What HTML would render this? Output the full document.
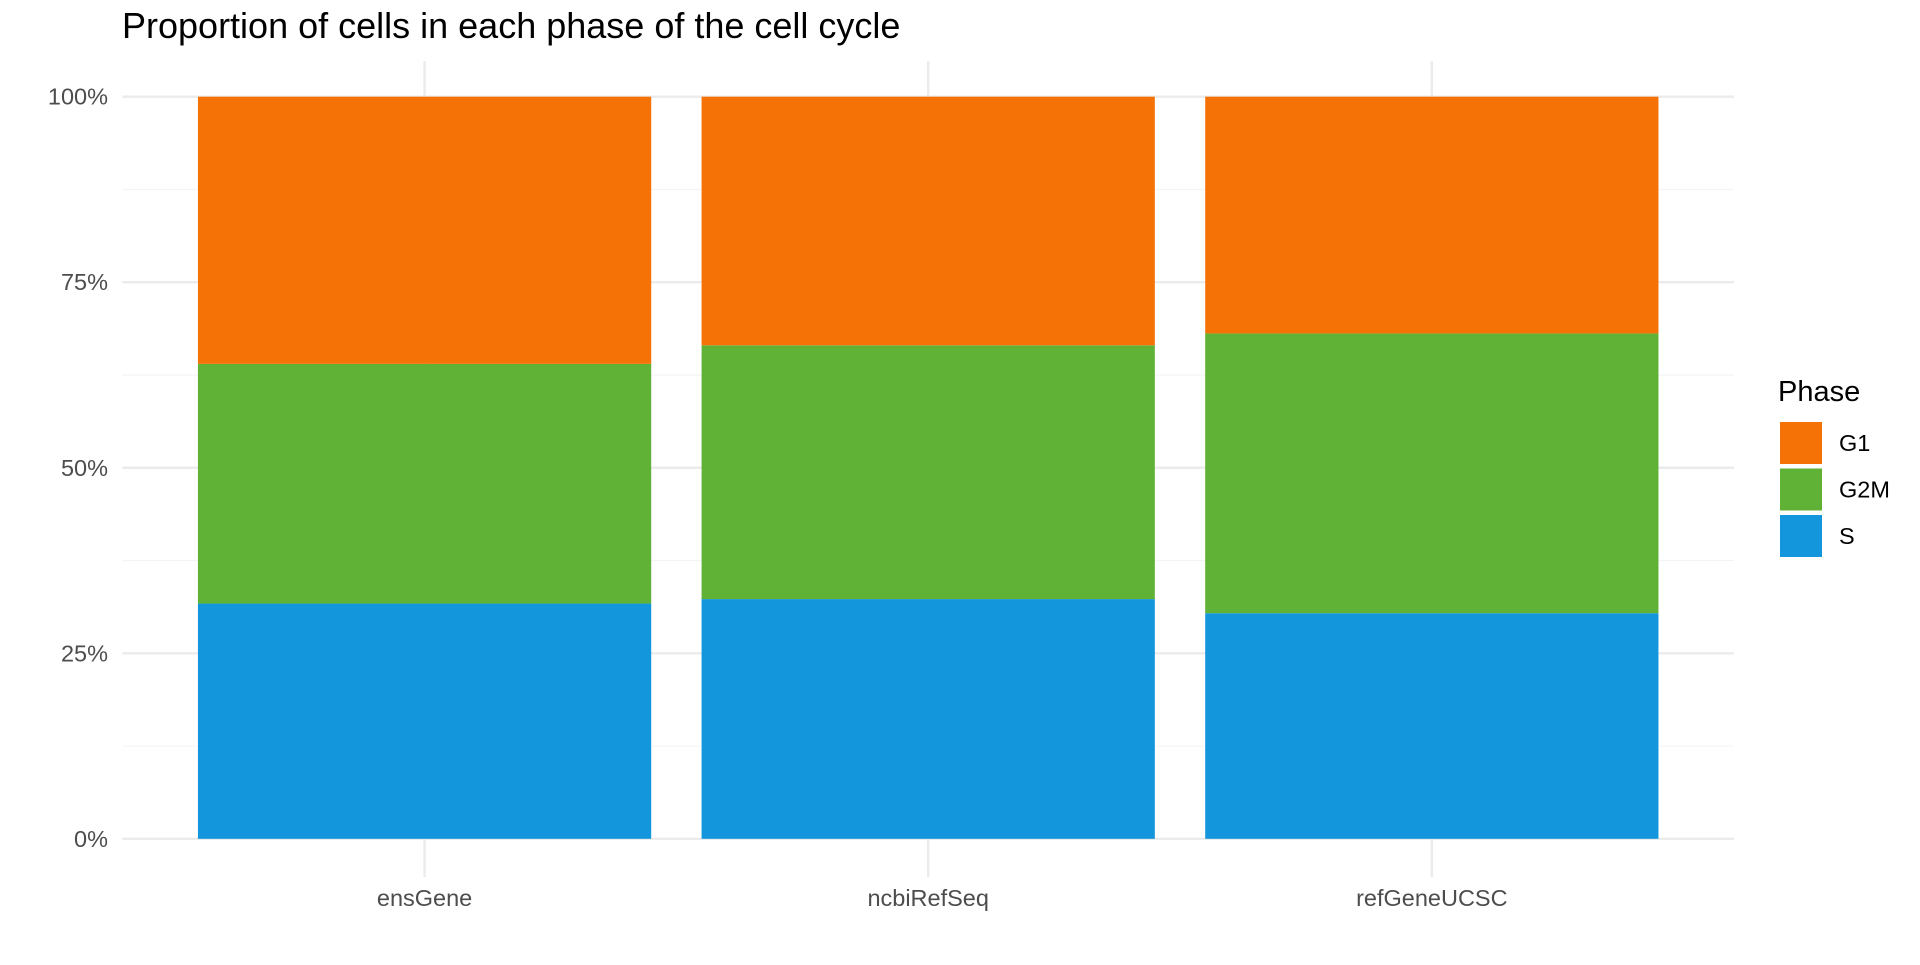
<!DOCTYPE html>
<html><head><meta charset="utf-8"><style>
body{margin:0;background:#fff;}
svg text{font-family:"Liberation Sans",sans-serif;}
</style></head><body>
<svg width="1920" height="960" id="chart">
<text x="122" y="38" font-size="36" fill="#000">Proportion of cells in each phase of the cell cycle</text>
<g id="grid"></g><g id="bars"></g><g id="axes"></g><g id="legend"></g>
</svg>
<script>
const categories=["ensGene","ncbiRefSeq","refGeneUCSC"];
const sVals=[0.317,0.323,0.304];
const g2mVals=[0.323,0.342,0.377];
const g1Vals=[0.360,0.335,0.319];
const yTicks=[0,0.25,0.5,0.75,1];
const yTickLabels=["0%","25%","50%","75%","100%"];
const phases=["G1","G2M","S"];
const colors={G1:"#F57206",G2M:"#60B236",S:"#1396DB"};
const NS="http://www.w3.org/2000/svg";
const L=122.4,R=1734,T=96.7,B=838.8;
const y=v=>B-(B-T)*v;
const unit=(R-L)/(categories.length-1+1.2), bw=unit*0.9;
const xc=i=>L+unit*(0.6+i);
function mk(tag,attrs,parent){const e=document.createElementNS(NS,tag);for(const k in attrs)e.setAttribute(k,attrs[k]);document.getElementById(parent).appendChild(e);return e;}
for(let i=0;i<yTicks.length-1;i++){const v=(yTicks[i]+yTicks[i+1])/2;
const l=mk("line",{x1:L,x2:R,y1:y(v),y2:y(v),stroke:"#F4F4F4","stroke-width":1.2},"grid");

}
yTicks.forEach((v,i)=>{const l=mk("line",{x1:L,x2:R,y1:y(v),y2:y(v),stroke:"#EBEBEB","stroke-width":2.4},"grid");


const t=mk("text",{x:108,y:y(v)+8,"text-anchor":"end","font-size":23.5,fill:"#4D4D4D"},"axes");t.textContent=yTickLabels[i];

});
categories.forEach((c,i)=>{const l=mk("line",{x1:xc(i),x2:xc(i),y1:61,y2:877,stroke:"#EBEBEB","stroke-width":2.4},"grid");


const t=mk("text",{x:xc(i),y:906,"text-anchor":"middle","font-size":23.5,fill:"#4D4D4D"},"axes");t.textContent=c;


let base=0;
[["S",sVals[i]],["G2M",g2mVals[i]],["G1",g1Vals[i]]].forEach(([p,v])=>{
const r=mk("rect",{x:xc(i)-bw/2,width:bw,y:y(base+v),height:y(base)-y(base+v),fill:colors[p]},"bars");


base+=v;});});
const lt=mk("text",{x:1778,y:401,"font-size":29,fill:"#000"},"legend");lt.textContent="Phase";


phases.forEach((p,i)=>{const yy=422+i*46.5;
const r=mk("rect",{x:1780,y:yy,width:42,height:42,fill:colors[p]},"legend");


const t=mk("text",{x:1839,y:yy+29,"font-size":23.5,fill:"#000"},"legend");t.textContent=p;

});
</script>
</body></html>
